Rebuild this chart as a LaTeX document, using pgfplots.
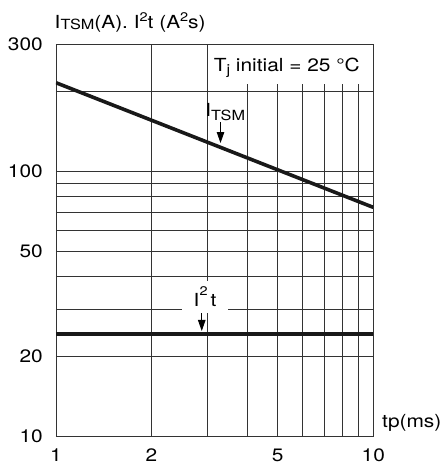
\documentclass[border=0pt]{standalone}
\usepackage{fontspec}
\setmainfont{TeX Gyre Heros}[FakeStretch=1.16]
\usepackage{pgfplots}
\pgfplotsset{compat=1.18}
\usetikzlibrary{arrows.meta}

% lowered / raised small text
\newcommand{\lo}[2]{\raisebox{-#1}{\fontsize{14}{14}\selectfont #2}}
\newcommand{\hi}[2]{\raisebox{#1}{\fontsize{12.5}{12.5}\selectfont #2}}

\begin{document}
\fontsize{18}{21}\selectfont
\begin{tikzpicture}
\useasboundingbox (-56pt,-29.3pt) rectangle (387pt,436.7pt);
\begin{axis}[
  at={(0pt,0pt)}, anchor=south west,
  scale only axis,
  width=317.3pt, height=392.4pt,
  xmode=log, ymode=log,
  xmin=1, xmax=10, ymin=10, ymax=300,
  xtick={1,2,5,10}, xticklabels={1,2,5,10},
  ytick={10,20,50,100,300}, yticklabels={10,20,50,100,300},
  minor xtick={3,4,6,7,8,9},
  minor ytick={30,40,60,70,80,90,200},
  grid=both,
  major grid style={black!80, line width=0.9pt},
  minor grid style={black!80, line width=0.9pt},
  axis line style={black!80, line width=0.9pt},
  major tick length=0pt, minor tick length=0pt,
  tick label style={font=\fontsize{18}{21}\selectfont},
  xticklabel style={yshift=-6pt},
  yticklabel style={xshift=-7pt},
]
% white patches behind the labels
\fill[white] (axis cs:3.08,297) rectangle (axis cs:9.92,213);
\fill[white] (axis cs:2.495,38.5) rectangle (axis cs:3.48,29.1);

\addplot[black!90, line width=3.6pt] coordinates {(1,215) (10,73)};
\addplot[black!90, line width=3.6pt] coordinates {(1,24.3) (10,24.3)};

\draw[black, line width=0.9pt, -{Triangle[length=11pt,width=7.5pt]}]
  (axis cs:3.30,153) -- (axis cs:3.30,127.5);
\draw[black, line width=0.9pt, -{Triangle[length=11pt,width=7.5pt]}]
  (axis cs:2.88,29.1) -- (axis cs:2.88,25);

\node[anchor=base east, inner sep=0pt] at (axis cs:9.08,238) {T\lo{3pt}{j} initial = 25 °C};
\node[anchor=base west, inner sep=0pt] at (axis cs:2.953,160) {I\lo{3.3pt}{TSM}};
\node[anchor=base west, inner sep=0pt] at (axis cs:2.713,30.9) {I\hi{11pt}{2}\,t};
\end{axis}
\node[anchor=base west, inner sep=0pt] at (-1.5pt,408.4pt) {I\lo{1.7pt}{TSM}(A). I\hi{6.5pt}{2}t (A\hi{6.5pt}{2}s)};
\node[anchor=base west, inner sep=0pt] at (326pt,8.7pt) {tp(ms)};
\end{tikzpicture}
\end{document}
